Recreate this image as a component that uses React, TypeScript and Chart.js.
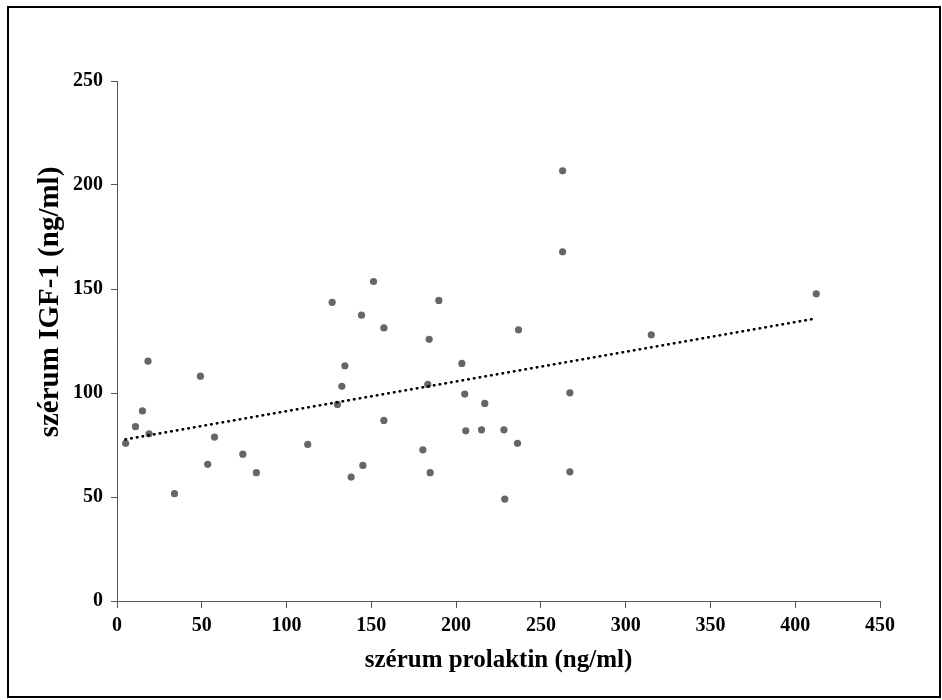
import { useEffect, useRef } from 'react';
import { Chart, registerables } from 'chart.js';

Chart.register(...registerables);

// szérum prolaktin (ng/ml)
const prolactin = [
  5.1, 10.9, 15.0, 18.3, 18.9, 33.9, 49.2, 53.5, 57.5, 74.2,
  82.2, 112.5, 126.9, 130.0, 132.6, 134.4, 138.1, 144.2, 145.0, 151.3,
  157.4, 157.4, 180.4, 184.1, 183.3, 184.7, 189.8, 203.4, 205.1, 205.7,
  215.0, 216.9, 228.2, 228.7, 236.2, 236.8, 262.8, 262.8, 267.1, 267.1,
  315.1, 412.4,
];
// szérum IGF-1 (ng/ml)
const igf1 = [
  75.8, 83.8, 91.4, 115.3, 80.4, 51.6, 108.1, 65.7, 78.8, 70.6,
  61.7, 75.3, 143.6, 94.5, 103.2, 113.1, 59.6, 137.4, 65.2, 153.6,
  131.3, 86.8, 72.7, 125.8, 104.1, 61.7, 144.5, 114.2, 99.5, 81.8,
  82.3, 95.0, 82.3, 49.0, 75.8, 130.4, 206.8, 167.9, 100.1, 62.1,
  128.0, 147.7,
];
// dotted trend line endpoints
const trendX = [5, 410];
const trendY = [77.7, 135.5];

const xTicks = [0, 50, 100, 150, 200, 250, 300, 350, 400, 450];
const yTicks = [0, 50, 100, 150, 200, 250];

const xTitle = 'szérum prolaktin (ng/ml)';
const yTitle = 'szérum IGF-1 (ng/ml)';

const serif = '"Liberation Serif", "Times New Roman", serif';

const framePlugin = {
  id: 'frame',
  afterDraw(chart: any) {
    const ctx = chart.ctx;
    ctx.save();
    ctx.strokeStyle = '#000';
    ctx.lineWidth = 2;
    ctx.strokeRect(8, 7, 932, 690);
    // y axis title (placed as in the reference, not centred on the plot)
    ctx.translate(51, 302);
    ctx.rotate(-Math.PI / 2);
    ctx.fillStyle = '#000';
    ctx.font = `bold 29px ${serif}`;
    ctx.textAlign = 'center';
    ctx.textBaseline = 'middle';
    ctx.fillText(yTitle, 0, 0);
    ctx.restore();
  },
};

export default function App() {
  const ref = useRef<HTMLCanvasElement | null>(null);

  useEffect(() => {
    if (!ref.current) return;
    const axisColor = '#555555';
    const tickFont = { family: serif, size: 20, weight: 'bold' as const };
    const titleFont = { family: serif, size: 25, weight: 'bold' as const };
    const chart = new Chart(ref.current, {
      type: 'scatter',
      data: {
        datasets: [
          {
            type: 'line',
            label: 'trend',
            data: trendX.map((x, i) => ({ x, y: trendY[i] })),
            borderColor: '#000',
            borderWidth: 2.7,
            borderDash: [0.5, 5.3],
            borderCapStyle: 'round',
            pointRadius: 0,
            fill: false,
          } as any,
          {
            label: 'IGF-1',
            data: prolactin.map((x, i) => ({ x, y: igf1[i] })),
            backgroundColor: '#666666',
            borderWidth: 0,
            pointRadius: 3.6,
          },
        ],
      },
      options: {
        responsive: false,
        animation: false,
        layout: { padding: { left: 33, top: 81, right: 62, bottom: 20 } },
        plugins: {
          legend: { display: false },
          tooltip: { enabled: false },
          title: { display: false },
        },
        scales: {
          x: {
            type: 'linear',
            min: 0,
            max: 450,
            afterFit: (s: any) => { s.height = 79; },
            afterBuildTicks: (s: any) => { s.ticks = xTicks.map((v) => ({ value: v })); },
            grid: { drawOnChartArea: false, drawTicks: true, tickLength: 7, color: axisColor },
            border: { display: true, color: axisColor, width: 1 },
            ticks: { color: '#000', font: tickFont, padding: 6, maxRotation: 0 },
            title: { display: true, text: xTitle, color: '#000', font: titleFont, padding: { top: 4, bottom: 4 } },
          },
          y: {
            type: 'linear',
            min: 0,
            max: 250,
            afterFit: (s: any) => { s.width = 84; },
            afterBuildTicks: (s: any) => { s.ticks = yTicks.map((v) => ({ value: v })); },
            grid: { drawOnChartArea: false, drawTicks: true, tickLength: 6, color: axisColor },
            border: { display: true, color: axisColor, width: 1 },
            ticks: { color: '#000', font: tickFont, padding: 8 },
            title: { display: false, text: yTitle },
          },
        },
      },
      plugins: [framePlugin],
    });
    return () => chart.destroy();
  }, []);

  return (
    <div style={{ position: 'fixed', left: 0, top: 0, width: 942, height: 700, background: '#fff' }}>
      <canvas ref={ref} width={942} height={700} style={{ display: 'block', width: 942, height: 700 }} />
    </div>
  );
}
